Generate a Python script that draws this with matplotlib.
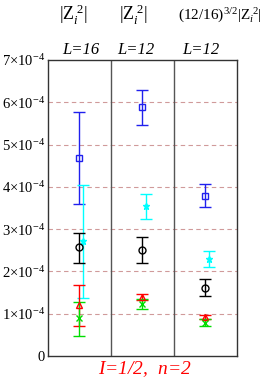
import matplotlib
matplotlib.use("Agg")
import matplotlib.pyplot as plt
import numpy as np

plt.rcParams["font.family"] = ["Liberation Serif", "DejaVu Serif"]
plt.rcParams["mathtext.fontset"] = "custom"
plt.rcParams["mathtext.rm"] = "Liberation Serif"
plt.rcParams["mathtext.it"] = "Liberation Serif:italic"

# one entry per panel (L=16, L=12, L=12 rescaled), values in units of 1e-4
panels = [0.5, 1.5, 2.5]
blue_val = [4.69, 5.89, 3.79]
blue_lo = [3.60, 5.46, 3.53]
blue_hi = [5.76, 6.30, 4.06]
cyan_val = [2.72, 3.55, 2.29]
cyan_lo = [1.38, 3.25, 2.10]
cyan_hi = [4.05, 3.84, 2.48]
black_val = [2.58, 2.51, 1.62]
black_lo = [2.21, 2.21, 1.42]
black_hi = [2.92, 2.81, 1.81]
red_val = [1.21, 1.39, 0.93]
red_lo = [0.72, 1.32, 0.87]
red_hi = [1.68, 1.47, 0.97]
green_val = [0.89, 1.23, 0.79]
green_lo = [0.47, 1.11, 0.71]
green_hi = [1.28, 1.34, 0.87]

yticks = [0, 1, 2, 3, 4, 5, 6, 7]
ytick_labels = ["0"] + [r"%d$\times$10$^{-4}$" % v for v in yticks[1:]]
panel_labels = ["L=16", "L=12", "L=12"]

fig = plt.figure(figsize=(2.68, 3.82), dpi=100)
ax = fig.add_axes([0.179, 0.068, 0.705, 0.775])

for y in yticks[1:-1]:
    ax.axhline(y, color="#d09a9a", lw=0.8, ls=(0, (4, 3)), zorder=0)
for xd in [1, 2]:
    ax.axvline(xd, color="#555555", lw=1.0, zorder=1)


def draw(dx, val, lo, hi, color, marker, ms, mfc):
    x = np.array(panels) + dx
    val = np.array(val)
    err = [val - np.array(lo), np.array(hi) - val]
    ax.errorbar(x, val, yerr=err, fmt=marker, color=color, ms=ms, mfc=mfc,
                mec=color, mew=1.0, ecolor=color, elinewidth=1.0,
                capsize=4, capthick=1.0, zorder=3)


draw(0.0, blue_val, blue_lo, blue_hi, "#2020ee", "s", 4, "none")
draw(0.05, cyan_val, cyan_lo, cyan_hi, "cyan", "*", 5, "cyan")
draw(0.0, black_val, black_lo, black_hi, "black", "o", 5, "none")
draw(0.0, red_val, red_lo, red_hi, "red", "^", 4, "none")
draw(0.0, green_val, green_lo, green_hi, "#00dd00", "x", 4, "#00dd00")

ax.set_xlim(0, 3)
ax.set_ylim(0, 7)
ax.set_xticks([])
ax.set_yticks(yticks)
ax.set_yticklabels(ytick_labels, fontsize=10.5)
ax.tick_params(axis="y", length=0, pad=2)
for s in ax.spines.values():
    s.set_color("#333333")
    s.set_linewidth(1.0)

for x, lab in zip([0.52, 1.4, 2.43], panel_labels):
    ax.text(x, 7.05, lab, fontsize=12, style="italic", ha="center", va="bottom")

fig.text(73 / 268, 1 - 15 / 382, r"$|\mathrm{Z}_{i}^{\ 2}|$", fontsize=13, ha="center", va="center")
fig.text(133 / 268, 1 - 15 / 382, r"$|\mathrm{Z}_{i}^{\ 2}|$", fontsize=13, ha="center", va="center")
fig.text(220 / 268, 1 - 15 / 382, r"$\mathit{(12/16)}^{\mathit{3/2}}|\mathrm{Z}_{i}^{\ 2}|$",
         fontsize=11, ha="center", va="center")
fig.text(145 / 268, 1 - 369 / 382, r"$I$=1/2,  $n$=2", fontsize=14, color="red",
         style="italic", ha="center", va="center")

fig.savefig("out.png", dpi=100)
